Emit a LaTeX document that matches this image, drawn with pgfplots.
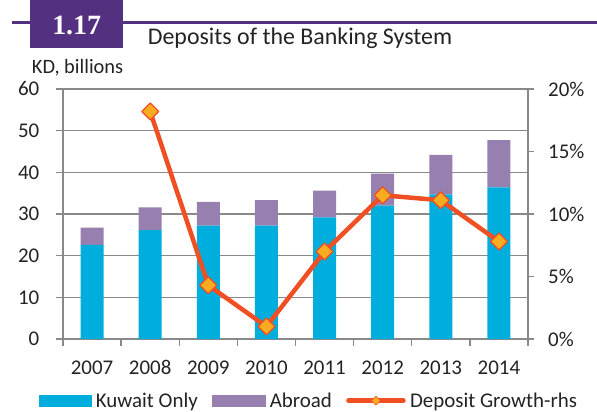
\documentclass[border=0pt]{standalone}
\usepackage{fontspec}
\setmainfont{Carlito}
\newfontfamily\serifb{Liberation Serif}
\usepackage{pgfplots}
\pgfplotsset{compat=1.18}
\definecolor{kblue}{RGB}{0,174,222}
\definecolor{apurple}{RGB}{151,128,176}
\definecolor{lorange}{RGB}{240,78,35}
\definecolor{mfill}{RGB}{250,172,32}
\definecolor{tpurple}{RGB}{84,48,128}
\definecolor{axgray}{RGB}{137,137,137}
\definecolor{txt}{RGB}{35,35,35}
\begin{document}
\begin{tikzpicture}
\useasboundingbox (-63bp,-73bp) rectangle (534bp,339bp);
\draw[tpurple, line width=3bp] (-51bp,316bp) -- (534bp,316bp);
\fill[tpurple] (-33bp,291.3bp) rectangle (59.7bp,339bp);
\node[anchor=base, text=white, font=\serifb\bfseries\fontsize{28}{28}\selectfont, inner sep=0pt] at (13.7bp,304bp) {1.17};
\node[anchor=base, text=txt, font=\fontsize{24}{24}\selectfont, inner sep=0pt] at (237bp,294bp) {Deposits of the Banking System};
\node[anchor=base west, text=txt, font=\fontsize{20.5}{20.5}\selectfont, inner sep=0pt] at (-31.3bp,265bp) {KD, billions};
\begin{axis}[
  at={(0,0)}, anchor=south west,
  width=465bp, height=250bp, scale only axis,
  xmin=-0.5, xmax=7.5, ymin=0, ymax=60,
  axis x line*=bottom, axis y line*=left,
  axis line style={axgray, line width=1.3bp, -},
  ybar stacked, bar width=23bp,
  xtick={0,...,7},
  xticklabels={2007,2008,2009,2010,2011,2012,2013,2014},
  major x tick style={draw=none},
  minor xtick={-0.5,0.5,...,7.5},
  ytick={0,10,...,60},
  tick align=outside,
  major tick length=6.5bp, minor tick length=6.5bp,
  tick style={axgray, line width=1.3bp},
  ymajorgrids, grid style={axgray, line width=1.3bp},
  ticklabel style={font=\fontsize{21}{21}\selectfont, text=txt},
  /pgf/number format/assume math mode=true,
  xticklabel style={inner sep=0pt, yshift=-15bp},
  yticklabel style={inner sep=0pt, xshift=-17bp},
]
\addplot[fill=kblue, draw=none] coordinates {(0,22.6) (1,26.1) (2,27.2) (3,27.2) (4,29.2) (5,32.0) (6,34.7) (7,36.4)};
\addplot[fill=apurple, draw=none] coordinates {(0,4.1) (1,5.5) (2,5.7) (3,6.1) (4,6.4) (5,7.7) (6,9.5) (7,11.3)};
\end{axis}
\begin{axis}[
  at={(0,0)}, anchor=south west,
  width=465bp, height=250bp, scale only axis,
  xmin=-0.5, xmax=7.5, ymin=0, ymax=20,
  axis x line=none, axis y line*=right,
  axis line style={axgray, line width=1.3bp, -},
  ytick={0,5,...,20},
  yticklabel={\pgfmathprintnumber{\tick}\%},
  tick align=outside, major tick length=6bp,
  tick style={axgray, line width=1.3bp},
  ticklabel style={font=\fontsize{21}{21}\selectfont, text=txt},
  /pgf/number format/assume math mode=true,
  yticklabel style={inner sep=0pt, xshift=14bp},
  legend columns=3,
  legend style={at={(axis description cs:-0.0516,-0.247)}, anchor=west, draw=none, fill=none, inner sep=0pt,
    font=\fontsize{21}{21}\selectfont, text=txt,
    nodes={inner sep=2.3bp},
    /tikz/every odd column/.append style={column sep=2bp},
    /tikz/every even column/.append style={column sep=12bp}},
  legend cell align=left,
]
\addlegendimage{legend image code/.code={\fill[kblue] (0bp,-5.8bp) rectangle (52bp,5.8bp);}}
\addlegendentry{Kuwait Only}
\addlegendimage{legend image code/.code={\fill[apurple] (0bp,-5.8bp) rectangle (53bp,5.8bp);}}
\addlegendentry{Abroad}
\addplot[color=lorange, line width=4.5bp, line join=round,
  mark=square*, mark size=6bp, mark options={rotate=45, fill=mfill, draw=lorange, line width=1.2bp},
  legend image code/.code={
    \draw[lorange, line width=4.5bp, line cap=round] (0bp,0bp) -- (55bp,0bp);
    \filldraw[fill=mfill, draw=lorange, line width=0.6bp] (27.5bp,4.5bp) -- (32bp,0bp) -- (27.5bp,-4.5bp) -- (23bp,0bp) -- cycle;}
] coordinates {(1,18.2) (2,4.3) (3,1.0) (4,7.0) (5,11.5) (6,11.1) (7,7.8)};
\addlegendentry{Deposit Growth-rhs}
\end{axis}
\end{tikzpicture}
\end{document}
